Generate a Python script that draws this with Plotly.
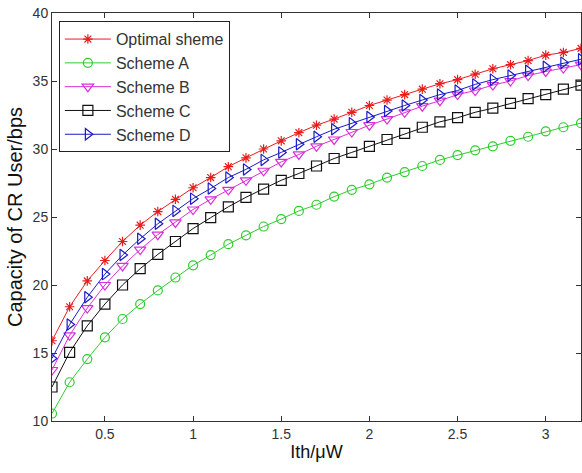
import plotly.graph_objects as go

x_vals = [round(0.2 + 0.1 * i, 1) for i in range(31)]

optimal = [15.9, 18.4, 20.3, 21.8, 23.2, 24.4, 25.4, 26.3, 27.15, 27.9, 28.7,
           29.35, 30.0, 30.6, 31.2, 31.75, 32.2, 32.7, 33.2, 33.6, 34.0,
           34.4, 34.8, 35.1, 35.5, 35.9, 36.2, 36.5, 36.9, 37.1, 37.4]
scheme_a = [10.55, 12.85, 14.55, 16.15, 17.5, 18.6, 19.6, 20.55, 21.45, 22.2, 23.0,
            23.65, 24.3, 24.85, 25.45, 25.9, 26.5, 27.0, 27.4, 27.9, 28.3,
            28.75, 29.2, 29.55, 29.9, 30.2, 30.6, 30.9, 31.3, 31.6, 31.9]
scheme_b = [13.75, 16.3, 18.3, 20.0, 21.4, 22.6, 23.7, 24.6, 25.55, 26.3, 27.0,
            27.7, 28.4, 29.05, 29.6, 30.2, 30.7, 31.25, 31.75, 32.2, 32.7,
            33.15, 33.55, 34.0, 34.3, 34.7, 35.0, 35.4, 35.7, 35.95, 36.2]
scheme_c = [12.5, 15.05, 17.0, 18.6, 20.0, 21.2, 22.25, 23.2, 24.15, 24.95, 25.75,
            26.45, 27.05, 27.7, 28.2, 28.75, 29.3, 29.75, 30.2, 30.7, 31.15,
            31.6, 32.0, 32.3, 32.7, 33.0, 33.35, 33.7, 34.0, 34.4, 34.7]
scheme_d = [14.6, 17.1, 19.1, 20.8, 22.2, 23.4, 24.5, 25.45, 26.35, 27.1, 27.9,
            28.5, 29.2, 29.75, 30.35, 30.9, 31.45, 31.9, 32.35, 32.8, 33.2,
            33.6, 34.0, 34.3, 34.75, 35.1, 35.4, 35.75, 36.05, 36.35, 36.6]

names = ["Optimal sheme", "Scheme A", "Scheme B", "Scheme C", "Scheme D"]
series = [optimal, scheme_a, scheme_b, scheme_c, scheme_d]
colors = ["#e81c1c", "#2ecc2e", "#d830d8", "#111111", "#1a1ac8"]
symbols = ["asterisk-open", "circle-open", "triangle-down-open", "square-open", "triangle-right-open"]
sizes = [8, 9, 10, 10, 10]

x_ticks = [0.5, 1, 1.5, 2, 2.5, 3]
x_tick_labels = ["0.5", "1", "1.5", "2", "2.5", "3"]
y_ticks = [10, 15, 20, 25, 30, 35, 40]
y_tick_labels = ["10", "15", "20", "25", "30", "35", "40"]

fig = go.Figure()
for name, ys, col, sym, sz in zip(names, series, colors, symbols, sizes):
    fig.add_trace(go.Scatter(
        x=x_vals, y=ys, name=name, mode="lines+markers",
        line=dict(color=col, width=1),
        marker=dict(symbol=sym, size=sz, color=col, line=dict(color=col, width=1.2)),
    ))

font_family = "Liberation Sans, Arial, sans-serif"
fig.update_layout(
    width=582, height=473,
    margin=dict(l=52, r=1, t=13, b=52, autoexpand=False),
    paper_bgcolor="white", plot_bgcolor="white",
    font=dict(family=font_family, color="#222"),
    showlegend=True,
    legend=dict(
        x=0.013, y=0.98, xanchor="left", yanchor="top",
        bgcolor="white", bordercolor="#222", borderwidth=1,
        font=dict(family=font_family, size=16, color="#333"),
        tracegroupgap=0, itemwidth=46,
    ),
    xaxis=dict(
        range=[0.2, 3.2], tickvals=x_ticks, ticktext=x_tick_labels,
        ticks="inside", ticklen=5, tickcolor="#333",
        showline=True, linecolor="#333", linewidth=1, mirror="ticks",
        showgrid=False, zeroline=False,
        tickfont=dict(size=14, color="#333"),
        title=dict(text="Ith/μW", font=dict(size=18, color="#111"), standoff=2),
        automargin=False,
    ),
    yaxis=dict(
        range=[10, 40], tickvals=y_ticks, ticktext=y_tick_labels,
        ticks="inside", ticklen=5, tickcolor="#333",
        showline=True, linecolor="#333", linewidth=1, mirror="ticks",
        showgrid=False, zeroline=False,
        tickfont=dict(size=14, color="#333"),
        title=dict(text="Capacity of CR User/bps", font=dict(size=20, color="#111"), standoff=4),
        automargin=False,
    ),
)

fig.write_html("out.html", config={"displayModeBar": False},
               post_script="document.body.style.margin='0';")
